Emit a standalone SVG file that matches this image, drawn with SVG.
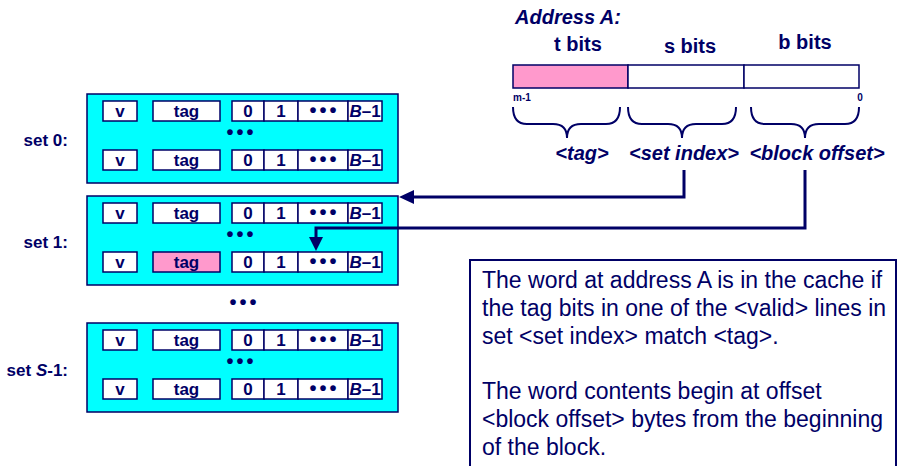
<svg xmlns="http://www.w3.org/2000/svg" width="898" height="466" viewBox="0 0 898 466">
<style>
.set{fill:#00FFFF;stroke:#000066;stroke-width:1.5}
.cell{fill:#FFFFFF;stroke:#000066;stroke-width:1.5}
.pink{fill:#FF99CC;stroke:#000066;stroke-width:1.5}
.ct{font-family:"Liberation Sans",Arial,sans-serif;font-weight:bold;font-size:17px;fill:#000066;text-anchor:middle}
.lbl{font-family:"Liberation Sans",Arial,sans-serif;font-weight:bold;font-size:17px;fill:#000066;text-anchor:end}
.dots{font-family:"Liberation Sans",Arial,sans-serif;font-weight:bold;font-size:20px;fill:#000066;text-anchor:middle;letter-spacing:3px}
.hd{font-family:"Liberation Sans",Arial,sans-serif;font-weight:bold;font-size:20px;fill:#000066;text-anchor:middle}
.hi{font-family:"Liberation Sans",Arial,sans-serif;font-weight:bold;font-style:italic;font-size:20px;fill:#000066}
.sm{font-family:"Liberation Sans",Arial,sans-serif;font-weight:bold;font-size:10px;fill:#000066}
.body{font-family:"Liberation Sans",Arial,sans-serif;font-size:23px;fill:#000066}
.brace{fill:none;stroke:#000066;stroke-width:2}
.conn{fill:none;stroke:#000066;stroke-width:3}
</style>
<defs>
<g id="row">
<rect class="cell" x="103" y="0" width="34" height="20"/>
<text class="ct" x="120" y="16">v</text>
<rect class="cell" x="232" y="0" width="32" height="20"/>
<text class="ct" x="248" y="16">0</text>
<rect class="cell" x="264" y="0" width="34" height="20"/>
<text class="ct" x="281" y="16">1</text>
<rect class="cell" x="298" y="0" width="50" height="20"/>
<text class="dots" x="324.5" y="16">•••</text>
<rect class="cell" x="348" y="0" width="34" height="20"/>
<text class="ct" x="365" y="16"><tspan font-style="italic">B</tspan>–1</text>
</g>
</defs>

<g id="set0">
<rect class="set" x="87" y="94" width="311" height="89"/>
<use href="#row" y="101"/>
<rect class="cell" x="153" y="101" width="67" height="20"/>
<text class="ct" x="186.5" y="117">tag</text>
<text class="dots" x="241.5" y="139">•••</text>
<use href="#row" y="150"/>
<rect class="cell" x="153" y="150" width="67" height="20"/>
<text class="ct" x="186.5" y="166">tag</text>
<text class="lbl" x="68" y="146">set 0:</text>
</g>

<g id="set1">
<rect class="set" x="87" y="196" width="311" height="89"/>
<use href="#row" y="203"/>
<rect class="cell" x="153" y="203" width="67" height="20"/>
<text class="ct" x="186.5" y="219">tag</text>
<text class="dots" x="241.5" y="241">•••</text>
<use href="#row" y="252"/>
<rect class="pink" x="153" y="252" width="67" height="20"/>
<text class="ct" x="186.5" y="268">tag</text>
<text class="lbl" x="68" y="248">set 1:</text>
</g>

<g id="gap">
<text class="dots" x="244.5" y="309">•••</text>
</g>

<g id="setS1">
<rect class="set" x="87" y="323" width="311" height="89"/>
<use href="#row" y="330"/>
<rect class="cell" x="153" y="330" width="67" height="20"/>
<text class="ct" x="186.5" y="346">tag</text>
<text class="dots" x="241.5" y="368">•••</text>
<use href="#row" y="379"/>
<rect class="cell" x="153" y="379" width="67" height="20"/>
<text class="ct" x="186.5" y="395">tag</text>
<text class="lbl" x="68" y="376">set <tspan font-style="italic">S</tspan>-1:</text>
</g>

<g id="address">
<text class="hi" x="515" y="24">Address A:</text>
<text class="hd" x="578" y="51">t bits</text>
<text class="hd" x="690" y="53">s bits</text>
<text class="hd" x="805" y="49">b bits</text>
<rect x="513" y="65" width="115" height="23" fill="#FF99CC" stroke="#000066" stroke-width="1.5"/>
<rect x="628" y="65" width="116" height="23" fill="#FFFFFF" stroke="#000066" stroke-width="1.5"/>
<rect x="744" y="65" width="115" height="23" fill="#FFFFFF" stroke="#000066" stroke-width="1.5"/>
<text class="sm" x="513" y="101">m-1</text>
<text class="sm" x="860" y="101" text-anchor="middle">0</text>
<path class="brace" d="M513,107 Q513,124 527,124 H553 Q567,124 567,138 Q567,124 581,124 H606 Q620,124 620,107"/>
<path class="brace" d="M628,107 Q628,124 642,124 H668 Q682,124 682,138 Q682,124 696,124 H722 Q736,124 736,107"/>
<path class="brace" d="M751,107 Q751,124 765,124 H791 Q805,124 805,138 Q805,124 819,124 H845 Q859,124 859,107"/>
<text class="hi" x="582" y="160" text-anchor="middle">&lt;tag&gt;</text>
<text class="hi" x="684" y="160" text-anchor="middle">&lt;set index&gt;</text>
<text class="hi" x="817" y="160" text-anchor="middle">&lt;block offset&gt;</text>
</g>

<g id="connectors">
<path class="conn" d="M684,170 V197 H410"/>
<polygon points="399,197 414,190 414,204" fill="#000066"/>
<path class="conn" d="M805,170 V228 H316 V240"/>
<polygon points="316,251 309,237 323,237" fill="#000066"/>
</g>

<g id="note">
<rect x="470" y="260" width="426" height="215" fill="#FFFFFF" stroke="#000066" stroke-width="2"/>
<text class="body" x="482" y="288">The word at address A is in the cache if</text>
<text class="body" x="482" y="316">the tag bits in one of the &lt;valid&gt; lines in</text>
<text class="body" x="482" y="344">set &lt;set index&gt; match &lt;tag&gt;.</text>
<text class="body" x="482" y="399">The word contents begin at offset</text>
<text class="body" x="482" y="427">&lt;block offset&gt; bytes from the beginning</text>
<text class="body" x="482" y="455">of the block.</text>
</g>
</svg>
